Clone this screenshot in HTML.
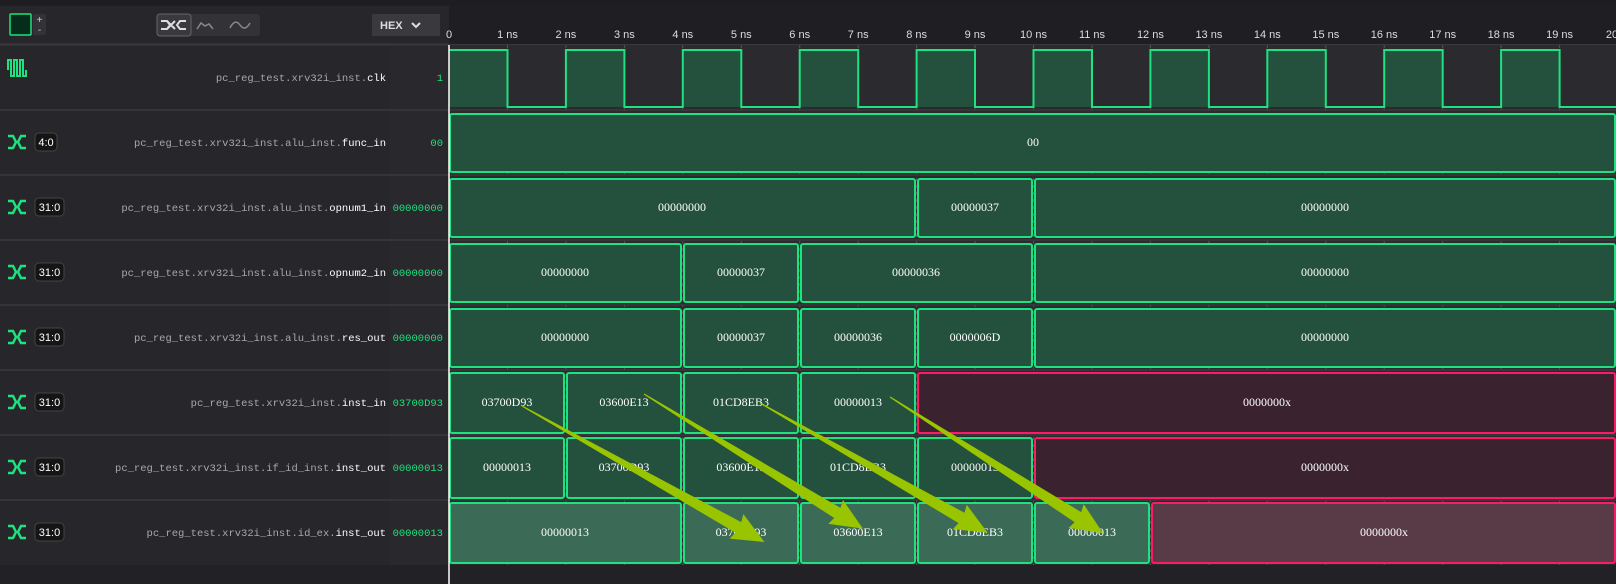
<!DOCTYPE html>
<html><head><meta charset="utf-8"><style>
body{margin:0;background:#27262b;width:1616px;height:584px;overflow:hidden}
svg{display:block}
.lb{font-family:"Liberation Mono",monospace;font-size:10.5px;fill:#a8a8a8}
.lw{fill:#fff}
.vv{font-family:"Liberation Mono",monospace;font-size:10.5px;fill:#1de27f}
.bt{font-family:"Liberation Serif",serif;font-size:12px;fill:#fff;text-anchor:middle}
.tk{font-family:"Liberation Sans",sans-serif;font-size:11px;fill:#ddd;text-anchor:middle}
</style></head><body>
<svg width="1616" height="584" xmlns="http://www.w3.org/2000/svg">
<rect width="1616" height="584" fill="#27262b"/>
<rect x="0" y="0" width="1616" height="6" fill="#1e1d21"/>
<rect x="449" y="6" width="1167" height="38" fill="#1f1e22"/>
<rect x="449" y="45" width="1167" height="520" fill="#2b2a2f"/>
<rect x="0" y="565" width="1616" height="19" fill="#222125"/>
<rect x="390" y="45" width="57" height="520" fill="#29282c"/>
<line x1="0" y1="44.5" x2="449" y2="44.5" stroke="#3a393e" stroke-width="2"/>
<line x1="449" y1="44.5" x2="1616" y2="44.5" stroke="#3a393e"/>
<rect x="10" y="14" width="21" height="21" fill="#062d1c" stroke="#1de27f" stroke-width="1.5" rx="1"/>
<rect x="33" y="14" width="13" height="21" fill="#333237" rx="2"/>
<text x="39.5" y="23" fill="#ccc" font-size="10" font-family="Liberation Sans" text-anchor="middle">+</text>
<text x="39.5" y="33" fill="#ccc" font-size="10" font-family="Liberation Sans" text-anchor="middle">-</text>
<rect x="157" y="14" width="103" height="22" fill="#333237" rx="3"/>
<rect x="157" y="14" width="34" height="22" fill="#3a393e" stroke="#666" rx="3"/>
<path d="M161,21 h6 l3,4 l-3,4 h-6 M186,21 h-6 l-3,4 l3,4 h6 M167,21 l8,8 M175,21 l-8,8" stroke="#ddd" stroke-width="2" fill="none"/>
<path d="M197,29 l4,-6 l4,3 l4,-2 l4,5" stroke="#888" stroke-width="1.5" fill="none"/>
<path d="M230,28 q5,-10 10,-3 t10,-2" stroke="#888" stroke-width="1.5" fill="none"/>
<rect x="372" y="14" width="68" height="22" fill="#3a393e" rx="1"/>
<text x="380" y="29" fill="#ddd" font-size="11" font-weight="bold" font-family="Liberation Sans">HEX</text>
<path d="M412,23 l4,4 l4,-4" stroke="#ddd" stroke-width="2" fill="none"/>
<g stroke="#555" stroke-dasharray="3,4">
<line x1="507.5" y1="45" x2="507.5" y2="565"/><line x1="565.9" y1="45" x2="565.9" y2="565"/><line x1="624.4" y1="45" x2="624.4" y2="565"/><line x1="682.8" y1="45" x2="682.8" y2="565"/><line x1="741.3" y1="45" x2="741.3" y2="565"/><line x1="799.7" y1="45" x2="799.7" y2="565"/><line x1="858.2" y1="45" x2="858.2" y2="565"/><line x1="916.6" y1="45" x2="916.6" y2="565"/><line x1="975" y1="45" x2="975" y2="565"/><line x1="1033.5" y1="45" x2="1033.5" y2="565"/><line x1="1092" y1="45" x2="1092" y2="565"/><line x1="1150.4" y1="45" x2="1150.4" y2="565"/><line x1="1208.9" y1="45" x2="1208.9" y2="565"/><line x1="1267.3" y1="45" x2="1267.3" y2="565"/><line x1="1325.8" y1="45" x2="1325.8" y2="565"/><line x1="1384.2" y1="45" x2="1384.2" y2="565"/><line x1="1442.7" y1="45" x2="1442.7" y2="565"/><line x1="1501.1" y1="45" x2="1501.1" y2="565"/><line x1="1559.6" y1="45" x2="1559.6" y2="565"/>
</g>
<g>
<text class="tk" x="449" y="38">0</text><text class="tk" x="507.5" y="38">1 ns</text><text class="tk" x="565.9" y="38">2 ns</text><text class="tk" x="624.4" y="38">3 ns</text><text class="tk" x="682.8" y="38">4 ns</text><text class="tk" x="741.3" y="38">5 ns</text><text class="tk" x="799.7" y="38">6 ns</text><text class="tk" x="858.2" y="38">7 ns</text><text class="tk" x="916.6" y="38">8 ns</text><text class="tk" x="975" y="38">9 ns</text><text class="tk" x="1033.5" y="38">10 ns</text><text class="tk" x="1092" y="38">11 ns</text><text class="tk" x="1150.4" y="38">12 ns</text><text class="tk" x="1208.9" y="38">13 ns</text><text class="tk" x="1267.3" y="38">14 ns</text><text class="tk" x="1325.8" y="38">15 ns</text><text class="tk" x="1384.2" y="38">16 ns</text><text class="tk" x="1442.7" y="38">17 ns</text><text class="tk" x="1501.1" y="38">18 ns</text><text class="tk" x="1559.6" y="38">19 ns</text><text class="tk" x="1612" y="38">20</text>
</g>
<g stroke="#3a393e" stroke-width="1.5">
<line x1="0" y1="110" x2="1616" y2="110"/><line x1="0" y1="175" x2="1616" y2="175"/><line x1="0" y1="240" x2="1616" y2="240"/><line x1="0" y1="305" x2="1616" y2="305"/><line x1="0" y1="370" x2="1616" y2="370"/><line x1="0" y1="435" x2="1616" y2="435"/><line x1="0" y1="500" x2="1616" y2="500"/>
</g>
<path d="M8,70 v-10 h3 v16 h3 v-16 h3 v16 h3 v-16 h3 v16 h3 v-6" stroke="#1de27f" stroke-width="2" fill="none"/>
<text class="lb" x="386" y="81" text-anchor="end">pc_reg_test.xrv32i_inst.<tspan class="lw">clk</tspan></text>
<text class="vv" x="443" y="81" text-anchor="end">1</text>
<g fill="none" stroke="#1de27f" stroke-width="2.5">
<path d="M8,136 h5 l3,6 l-3,6 h-5 M26,136 h-5 l-3,6 l3,6 h5"/>
<path d="M8,201 h5 l3,6 l-3,6 h-5 M26,201 h-5 l-3,6 l3,6 h5"/>
<path d="M8,266 h5 l3,6 l-3,6 h-5 M26,266 h-5 l-3,6 l3,6 h5"/>
<path d="M8,331 h5 l3,6 l-3,6 h-5 M26,331 h-5 l-3,6 l3,6 h5"/>
<path d="M8,396 h5 l3,6 l-3,6 h-5 M26,396 h-5 l-3,6 l3,6 h5"/>
<path d="M8,461 h5 l3,6 l-3,6 h-5 M26,461 h-5 l-3,6 l3,6 h5"/>
<path d="M8,526 h5 l3,6 l-3,6 h-5 M26,526 h-5 l-3,6 l3,6 h5"/>
</g>
<g fill="#151515" stroke="#444" stroke-width="1">
<rect x="35" y="133" width="22" height="18" rx="4"/>
<rect x="35" y="198" width="29" height="18" rx="4"/><rect x="35" y="263" width="29" height="18" rx="4"/><rect x="35" y="328" width="29" height="18" rx="4"/><rect x="35" y="393" width="29" height="18" rx="4"/><rect x="35" y="458" width="29" height="18" rx="4"/><rect x="35" y="523" width="29" height="18" rx="4"/>
</g>
<g font-family="Liberation Sans" font-size="11" fill="#fff" text-anchor="middle">
<text x="46" y="146">4:0</text><text x="49.5" y="211">31:0</text><text x="49.5" y="276">31:0</text><text x="49.5" y="341">31:0</text><text x="49.5" y="406">31:0</text><text x="49.5" y="471">31:0</text><text x="49.5" y="536">31:0</text>
</g>
<g>
<text class="lb" x="386" y="146" text-anchor="end">pc_reg_test.xrv32i_inst.alu_inst.<tspan class="lw">func_in</tspan></text>
<text class="lb" x="386" y="211" text-anchor="end">pc_reg_test.xrv32i_inst.alu_inst.<tspan class="lw">opnum1_in</tspan></text>
<text class="lb" x="386" y="276" text-anchor="end">pc_reg_test.xrv32i_inst.alu_inst.<tspan class="lw">opnum2_in</tspan></text>
<text class="lb" x="386" y="341" text-anchor="end">pc_reg_test.xrv32i_inst.alu_inst.<tspan class="lw">res_out</tspan></text>
<text class="lb" x="386" y="406" text-anchor="end">pc_reg_test.xrv32i_inst.<tspan class="lw">inst_in</tspan></text>
<text class="lb" x="386" y="471" text-anchor="end">pc_reg_test.xrv32i_inst.if_id_inst.<tspan class="lw">inst_out</tspan></text>
<text class="lb" x="386" y="536" text-anchor="end">pc_reg_test.xrv32i_inst.id_ex.<tspan class="lw">inst_out</tspan></text>
</g>
<g>
<text class="vv" x="443" y="146" text-anchor="end">00</text><text class="vv" x="443" y="211" text-anchor="end">00000000</text><text class="vv" x="443" y="276" text-anchor="end">00000000</text><text class="vv" x="443" y="341" text-anchor="end">00000000</text><text class="vv" x="443" y="406" text-anchor="end">03700D93</text><text class="vv" x="443" y="471" text-anchor="end">00000013</text><text class="vv" x="443" y="536" text-anchor="end">00000013</text>
</g>
<g fill="#24503e">
<rect x="449" y="50" width="58.5" height="57"/><rect x="565.9" y="50" width="58.5" height="57"/><rect x="682.8" y="50" width="58.5" height="57"/><rect x="799.7" y="50" width="58.5" height="57"/><rect x="916.6" y="50" width="58.5" height="57"/><rect x="1033.5" y="50" width="58.5" height="57"/><rect x="1150.4" y="50" width="58.5" height="57"/><rect x="1267.3" y="50" width="58.5" height="57"/><rect x="1384.2" y="50" width="58.5" height="57"/><rect x="1501.1" y="50" width="58.5" height="57"/>
</g>
<path d="M449,50 H507.5 V107 H565.9 V50 H624.4 V107 H682.8 V50 H741.3 V107 H799.7 V50 H858.2 V107 H916.6 V50 H975 V107 H1033.5 V50 H1092 V107 H1150.4 V50 H1208.9 V107 H1267.3 V50 H1325.8 V107 H1384.2 V50 H1442.7 V107 H1501.1 V50 H1559.6 V107 H1618" stroke="#1de27f" stroke-width="2" fill="none"/>
<g stroke="#1de27f" stroke-width="2" fill="#24503e">
<rect x="450" y="114" width="1165" height="58" rx="2"/>
<rect x="450" y="179" width="465" height="58" rx="2"/><rect x="918" y="179" width="114" height="58" rx="2"/><rect x="1035" y="179" width="580" height="58" rx="2"/>
<rect x="450" y="244" width="231" height="58" rx="2"/><rect x="684" y="244" width="114" height="58" rx="2"/><rect x="801" y="244" width="231" height="58" rx="2"/><rect x="1035" y="244" width="580" height="58" rx="2"/>
<rect x="450" y="309" width="231" height="58" rx="2"/><rect x="684" y="309" width="114" height="58" rx="2"/><rect x="801" y="309" width="114" height="58" rx="2"/><rect x="918" y="309" width="114" height="58" rx="2"/><rect x="1035" y="309" width="580" height="58" rx="2"/>
<rect x="450" y="373" width="114" height="60" rx="2"/><rect x="567" y="373" width="114" height="60" rx="2"/><rect x="684" y="373" width="114" height="60" rx="2"/><rect x="801" y="373" width="114" height="60" rx="2"/>
<rect x="450" y="438" width="114" height="60" rx="2"/><rect x="567" y="438" width="114" height="60" rx="2"/><rect x="684" y="438" width="114" height="60" rx="2"/><rect x="801" y="438" width="114" height="60" rx="2"/><rect x="918" y="438" width="114" height="60" rx="2"/>
</g>
<rect x="918" y="373" width="697" height="60" rx="2" fill="#3a232f" stroke="#ff1a66" stroke-width="2"/>
<rect x="1035" y="438" width="580" height="60" rx="2" fill="#3a232f" stroke="#ff1a66" stroke-width="2"/>
<g stroke="#1de27f" stroke-width="2" fill="#3b6a56">
<rect x="450" y="503" width="231" height="60" rx="2"/><rect x="684" y="503" width="114" height="60" rx="2"/><rect x="801" y="503" width="114" height="60" rx="2"/><rect x="918" y="503" width="114" height="60" rx="2"/><rect x="1035" y="503" width="114" height="60" rx="2"/>
</g>
<rect x="1152" y="503" width="463" height="60" rx="2" fill="#583b47" stroke="#ff1a66" stroke-width="2"/>
<line x1="449" y1="45" x2="449" y2="584" stroke="#fff" stroke-width="1.5"/>
<text class="bt" x="1033" y="146">00</text>
<text class="bt" x="682" y="211">00000000</text><text class="bt" x="975" y="211">00000037</text><text class="bt" x="1325" y="211">00000000</text>
<text class="bt" x="565" y="276">00000000</text><text class="bt" x="741" y="276">00000037</text><text class="bt" x="916" y="276">00000036</text><text class="bt" x="1325" y="276">00000000</text>
<text class="bt" x="565" y="341">00000000</text><text class="bt" x="741" y="341">00000037</text><text class="bt" x="858" y="341">00000036</text><text class="bt" x="975" y="341">0000006D</text><text class="bt" x="1325" y="341">00000000</text>
<text class="bt" x="507" y="406">03700D93</text><text class="bt" x="624" y="406">03600E13</text><text class="bt" x="741" y="406">01CD8EB3</text><text class="bt" x="858" y="406">00000013</text><text class="bt" x="1267" y="406">0000000x</text>
<text class="bt" x="507" y="471">00000013</text><text class="bt" x="624" y="471">03700D93</text><text class="bt" x="741" y="471">03600E13</text><text class="bt" x="858" y="471">01CD8EB3</text><text class="bt" x="975" y="471">00000013</text><text class="bt" x="1325" y="471">0000000x</text>
<text class="bt" x="565" y="536">00000013</text><text class="bt" x="741" y="536">03700D93</text><text class="bt" x="858" y="536">03600E13</text><text class="bt" x="975" y="536">01CD8EB3</text><text class="bt" x="1092" y="536">00000013</text><text class="bt" x="1384" y="536">0000000x</text>
<g fill="#99c400">
<polygon transform="translate(522,406) rotate(29.3)" points="0,-0.6 248,-6 246,-14 278,0 246,14 248,6 0,0.6"/>
<polygon transform="translate(644,394) rotate(31.6)" points="0,-0.6 227,-6 225,-14 257,0 225,14 227,6 0,0.6"/>
<polygon transform="translate(760,403) rotate(29.7)" points="0,-0.6 232,-6 230,-14 262,0 230,14 232,6 0,0.6"/>
<polygon transform="translate(890,397) rotate(32.6)" points="0,-0.6 223,-6 221,-14 253,0 221,14 223,6 0,0.6"/>
</g>
</svg>
</body></html>
